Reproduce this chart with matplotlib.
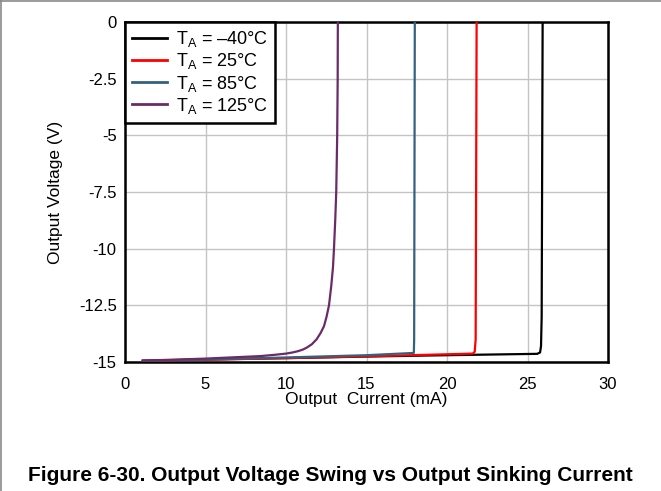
import matplotlib.pyplot as plt
from matplotlib.lines import Line2D

plt.rcParams['font.family'] = ['Liberation Sans', 'DejaVu Sans']
plt.rcParams['mathtext.fontset'] = 'custom'
plt.rcParams['mathtext.rm'] = 'Liberation Sans'

# Datos (corriente en mA, tension en V)
i_m40 = [1.1, 5, 10, 15, 20, 25.6, 25.78, 25.84, 25.88, 25.94]
v_m40 = [-14.94, -14.89, -14.83, -14.76, -14.70, -14.64, -14.58, -14.3, -13.0, 0]

i_25 = [1.1, 5, 10, 15, 21.6, 21.72, 21.78, 21.84]
v_25 = [-14.95, -14.90, -14.83, -14.75, -14.63, -14.55, -14.0, 0]

i_85 = [1.1, 5, 10, 15, 17.94, 17.96, 18.0]
v_85 = [-14.95, -14.89, -14.80, -14.70, -14.60, -14.0, 0]

i_125 = [1.13, 5, 8.39, 9.2, 10.0, 10.4, 10.76, 11.05, 11.28, 11.6, 11.9, 12.15, 12.36,
         12.52, 12.67, 12.81, 12.92, 12.98, 13.06, 13.12, 13.18, 13.21, 13.22]
v_125 = [-14.94, -14.85, -14.74, -14.69, -14.63, -14.58, -14.52, -14.45, -14.37, -14.22,
         -14.0, -13.72, -13.42, -13.0, -12.5, -11.65, -10.8, -10.0, -8.7, -7.5, -5.0, -2.5, 0]

series = [
    (i_m40, v_m40, 'black', 'T$_\\mathregular{A}$ = \u201340\u00b0C'),
    (i_25, v_25, '#ff0000', 'T$_\\mathregular{A}$ = 25\u00b0C'),
    (i_85, v_85, '#33627e', 'T$_\\mathregular{A}$ = 85\u00b0C'),
    (i_125, v_125, '#6b2a68', 'T$_\\mathregular{A}$ = 125\u00b0C'),
]

x_ticks = [0, 5, 10, 15, 20, 25, 30]
y_ticks = [0, -2.5, -5, -7.5, -10, -12.5, -15]
y_tick_labels = ['0', '-2.5', '-5', '-7.5', '-10', '-12.5', '-15']

fig = plt.figure(figsize=(6.61, 4.91), dpi=100)
ax = fig.add_axes([125 / 661, 1 - 362 / 491, 483 / 661, 340 / 491])

for xs, ys, col, lab in series:
    ax.plot(xs, ys, color=col, lw=1.6, label=lab, zorder=3,
            solid_joinstyle='round')

ax.set_xlim(0, 30)
ax.set_ylim(-15, 0)
ax.set_xticks(x_ticks)
ax.set_yticks(y_ticks)
ax.set_yticklabels(y_tick_labels)
ax.tick_params(length=0, labelsize=12)
ax.tick_params(axis='y', pad=6)
ax.tick_params(axis='x', pad=11)
ax.grid(True, color='#c4c4c4', lw=1, zorder=0)
for s in ax.spines.values():
    s.set_linewidth(1.8)
    s.set_color('black')

ax.set_xlabel('Output  Current (mA)', fontsize=12.5, labelpad=0)
ax.set_ylabel('Output Voltage (V)', fontsize=12.5)
ax.yaxis.set_label_coords(-0.128, 0.5)

leg = ax.legend(loc='upper left', bbox_to_anchor=(0, 1), borderaxespad=0,
                fancybox=False, framealpha=1, edgecolor='black', fontsize=13,
                handlelength=1.9, handletextpad=0.5, labelspacing=0.12,
                borderpad=0.4)
leg.get_frame().set_linewidth(1.8)
for h in leg.get_lines():
    h.set_linewidth(2.0)

fig.text(0.5, 1 - 481 / 491, 'Figure 6-30. Output Voltage Swing vs Output Sinking Current',
         ha='center', va='baseline', fontsize=15, fontweight='bold')

# marco gris del recuadro
fig.add_artist(Line2D([0, 1], [1 - 1 / 491, 1 - 1 / 491], color='#8a8a8a', lw=1.2,
                      transform=fig.transFigure))
fig.add_artist(Line2D([1 / 661, 1 / 661], [0, 1], color='#8a8a8a', lw=1.2,
                      transform=fig.transFigure))

fig.savefig('out.png', dpi=100)
